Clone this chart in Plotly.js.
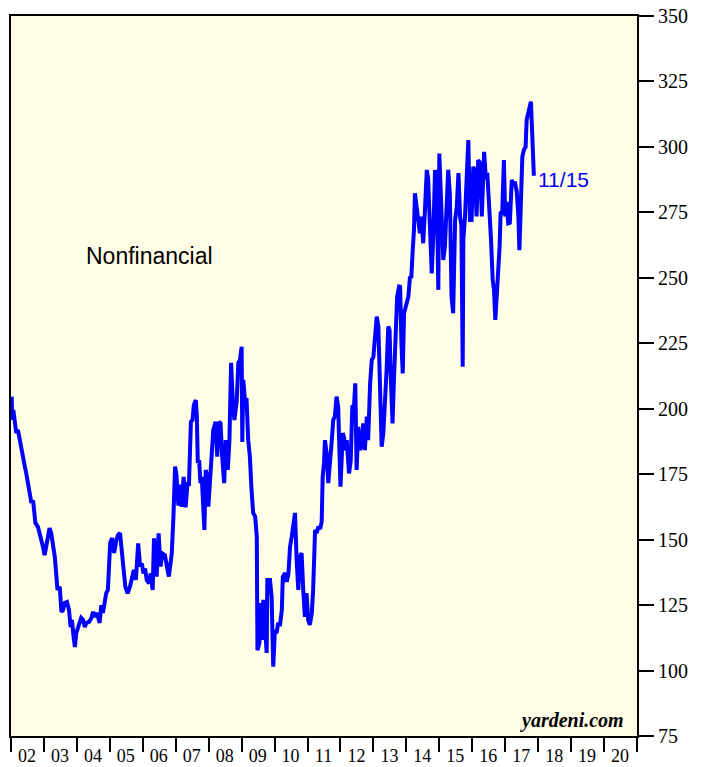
<!DOCTYPE html>
<html>
<head>
<meta charset="utf-8">
<script src="https://cdn.plot.ly/plotly-3.0.1.min.js"></script>
<style>html,body{margin:0;padding:0;background:#fff;}#chart{width:708px;height:767px;}</style>
</head>
<body>
<div id="chart"></div>
<script>
// Decimal-year dates of the series (weekly data, traced)
var dates = [
2002.02,2002.04,2002.07,2002.12,2002.16,2002.21,2002.26,2002.31,2002.36,2002.42,
2002.46,2002.52,2002.57,2002.62,2002.67,2002.72,2002.74,2002.82,2002.87,2002.92,
2002.97,2003.02,2003.07,2003.10,2003.17,2003.22,2003.27,2003.33,2003.37,2003.41,
2003.48,2003.53,2003.58,2003.63,2003.70,2003.76,2003.81,2003.85,2003.90,2003.94,
2003.98,2004.06,2004.13,2004.19,2004.24,2004.29,2004.37,2004.44,2004.49,2004.54,
2004.61,2004.69,2004.74,2004.79,2004.84,2004.89,2004.94,2004.97,2005.01,2005.07,
2005.13,2005.20,2005.25,2005.31,2005.36,2005.41,2005.47,2005.54,2005.61,2005.67,
2005.73,2005.79,2005.86,2005.92,2005.97,2006.02,2006.07,2006.12,2006.19,2006.24,
2006.30,2006.34,2006.38,2006.42,2006.48,2006.54,2006.59,2006.67,2006.73,2006.79,
2006.83,2006.88,2006.93,2006.98,2007.02,2007.08,2007.13,2007.18,2007.24,2007.30,
2007.36,2007.40,2007.46,2007.51,2007.55,2007.61,2007.64,2007.67,2007.71,2007.75,
2007.79,2007.84,2007.87,2007.91,2007.96,2007.99,2008.04,2008.09,2008.14,2008.21,
2008.26,2008.31,2008.36,2008.41,2008.47,2008.52,2008.58,2008.63,2008.68,2008.73,
2008.78,2008.85,2008.90,2008.95,2009.00,2009.02,2009.05,2009.10,2009.15,2009.20,
2009.25,2009.30,2009.35,2009.41,2009.46,2009.48,2009.54,2009.58,2009.61,2009.66,
2009.71,2009.76,2009.78,2009.86,2009.91,2009.96,2010.01,2010.06,2010.11,2010.16,
2010.22,2010.25,2010.32,2010.37,2010.42,2010.47,2010.52,2010.57,2010.62,2010.67,
2010.72,2010.77,2010.82,2010.87,2010.92,2010.97,2011.02,2011.07,2011.13,2011.17,
2011.23,2011.28,2011.33,2011.38,2011.43,2011.46,2011.50,2011.53,2011.58,2011.63,
2011.68,2011.73,2011.78,2011.83,2011.88,2011.93,2012.00,2012.07,2012.11,2012.14,
2012.19,2012.26,2012.31,2012.36,2012.41,2012.45,2012.49,2012.54,2012.59,2012.64,
2012.69,2012.74,2012.80,2012.84,2012.90,2012.95,2013.00,2013.05,2013.10,2013.15,
2013.20,2013.25,2013.30,2013.35,2013.40,2013.45,2013.49,2013.52,2013.58,2013.62,
2013.68,2013.72,2013.78,2013.81,2013.85,2013.89,2013.93,2013.99,2014.06,2014.11,
2014.15,2014.19,2014.23,2014.26,2014.31,2014.36,2014.41,2014.46,2014.51,2014.56,
2014.62,2014.66,2014.72,2014.77,2014.82,2014.87,2014.92,2014.97,2015.00,2015.04,
2015.09,2015.12,2015.17,2015.22,2015.27,2015.32,2015.37,2015.42,2015.48,2015.53,
2015.58,2015.63,2015.67,2015.71,2015.73,2015.78,2015.83,2015.88,2015.93,2015.98,
2016.03,2016.08,2016.13,2016.18,2016.23,2016.29,2016.36,2016.41,2016.46,2016.52,
2016.57,2016.62,2016.66,2016.70,2016.74,2016.79,2016.83,2016.86,2016.91,2016.96,
2017.00,2017.04,2017.09,2017.14,2017.20,2017.24,2017.30,2017.35,2017.40,2017.43,
2017.47,2017.52,2017.57,2017.62,2017.65,2017.70,2017.75,2017.78,2017.87
];
var values = [
204.6,195.7,199.5,195.7,190.7,191.9,188.0,185.5,180.4,177.9,
175.5,170.2,167.8,164.0,165.0,160.0,156.4,154.8,152.5,149.9,
147.3,144.1,147.3,151.0,154.4,152.5,148.7,143.4,137.3,130.8,
132.0,122.4,123.1,125.8,126.2,123.1,116.6,119.3,112.8,109.0,
114.3,118.2,120.1,119.3,116.6,118.2,118.6,120.1,122.4,120.5,
122.0,118.2,125.0,122.0,125.8,129.6,130.8,139.6,148.7,150.6,
144.9,149.9,151.8,152.5,147.3,139.6,132.0,129.5,132.0,134.6,
138.4,134.6,148.6,139.7,141.0,137.1,139.0,134.6,133.3,137.1,
130.8,150.5,144.8,135.9,152.4,139.7,144.8,144.1,140.0,135.9,
139.7,144.8,158.8,177.9,175.0,163.0,171.0,162.5,174.0,162.3,
172.0,170.5,195.0,195.7,201.4,203.3,197.0,179.3,180.4,171.6,
174.0,161.3,153.7,176.6,174.0,162.6,172.0,183.1,191.9,195.0,
181.7,195.0,194.5,181.7,171.6,188.0,176.6,188.0,217.5,203.3,
195.7,202.7,217.5,218.6,223.7,187.3,211.0,203.3,203.3,188.0,
181.7,169.0,160.2,158.8,151.1,107.8,110.5,125.8,111.7,127.0,
118.0,106.7,134.6,134.6,128.2,101.5,115.5,114.3,118.2,117.0,
123.1,135.8,137.3,133.9,137.0,147.3,151.1,156.4,160.2,142.2,
130.8,143.5,144.9,130.8,120.5,129.6,119.3,117.4,122.0,130.8,
153.7,152.5,155.0,154.0,156.8,174.0,179.3,188.0,183.0,171.6,
181.7,186.9,195.7,197.0,204.6,200.8,170.2,190.7,189.0,184.2,
188.0,175.3,180.0,200.8,201.0,209.7,176.6,193.1,184.2,186.0,
194.4,184.2,197.0,188.0,209.7,218.6,219.9,230.1,235.2,231.4,
200.8,185.5,190.6,201.0,214.8,231.4,230.0,214.8,194.4,210.0,
230.1,242.8,246.7,246.6,225.0,213.5,236.5,239.0,242.8,250.4,
250.0,260.0,268.0,282.3,277.2,269.6,267.0,273.4,263.2,275.0,
291.2,288.0,272.1,251.7,267.0,291.2,285.0,245.4,297.5,279.7,
268.3,256.8,262.0,278.5,291.2,282.3,242.8,236.5,272.1,277.0,
290.0,273.4,270.0,216.0,265.0,273.4,292.4,302.6,272.1,272.1,
292.4,291.0,273.4,295.0,294.0,273.4,298.1,288.6,289.0,277.2,
264.5,249.2,245.4,233.9,241.5,254.3,262.0,274.7,275.0,295.0,
273.4,279.0,270.8,271.0,287.4,286.0,286.1,283.0,273.4,260.6,
275.0,296.3,298.9,300.0,310.3,312.8,316.7,317.3,289.0
];
var yearTicks = [2002,2003,2004,2005,2006,2007,2008,2009,2010,2011,2012,2013,2014,2015,2016,2017,2018,2019,2020,2021];
var yearLabels = ['02','03','04','05','06','07','08','09','10','11','12','13','14','15','16','17','18','19','20',''];
var seriesLabel = 'Nonfinancial';
var lastLabel = '11/15';
var source = 'yardeni.com';

var serif = 'Liberation Serif, Times New Roman, serif';
var trace = {
  x: dates, y: values, type: 'scatter', mode: 'lines',
  line: {color: '#0000ff', width: 4}, hoverinfo: 'skip'
};
var layout = {
  width: 708, height: 767,
  margin: {l: 11, r: 71, t: 16, b: 31},
  paper_bgcolor: '#ffffff',
  plot_bgcolor: '#fffde6',
  showlegend: false,
  xaxis: {
    range: [2002, 2021], tickmode: 'array', tickvals: yearTicks, ticktext: yearLabels,
    ticks: 'outside', ticklen: 14, tickwidth: 2, tickcolor: '#000',
    ticklabelshift: 16, ticklabelstandoff: -12,
    showline: true, mirror: true, linecolor: '#000', linewidth: 2,
    showgrid: false, zeroline: false,
    tickfont: {family: serif, size: 18, color: '#000'}
  },
  yaxis: {
    range: [75, 350], side: 'right', tickmode: 'linear', tick0: 75, dtick: 25,
    ticks: 'outside', ticklen: 15, tickwidth: 2, tickcolor: '#000',
    showline: true, mirror: true, linecolor: '#000', linewidth: 2,
    showgrid: false, zeroline: false,
    tickfont: {family: serif, size: 20, color: '#000'}
  },
  annotations: [
    {xref: 'paper', yref: 'paper', x: 0.222, y: 0.667, text: seriesLabel, showarrow: false,
     xanchor: 'center', yanchor: 'middle', font: {family: 'Liberation Sans, Arial, sans-serif', size: 23, color: '#000'}},
    {xref: 'x', yref: 'y', x: dates[dates.length - 1], y: values[values.length - 1], text: lastLabel, showarrow: false,
     xanchor: 'left', yanchor: 'middle', xshift: 2, yshift: -4,
     font: {family: 'Liberation Sans, Arial, sans-serif', size: 21, color: '#0000ff'}},
    {xref: 'paper', yref: 'paper', x: 0.983, y: 0.022, text: '<b><i>' + source + '</i></b>', showarrow: false,
     xanchor: 'right', yanchor: 'middle', font: {family: serif, size: 20, color: '#000'}}
  ]
};
Plotly.newPlot('chart', [trace], layout, {staticPlot: true, displayModeBar: false});
</script>
</body>
</html>
